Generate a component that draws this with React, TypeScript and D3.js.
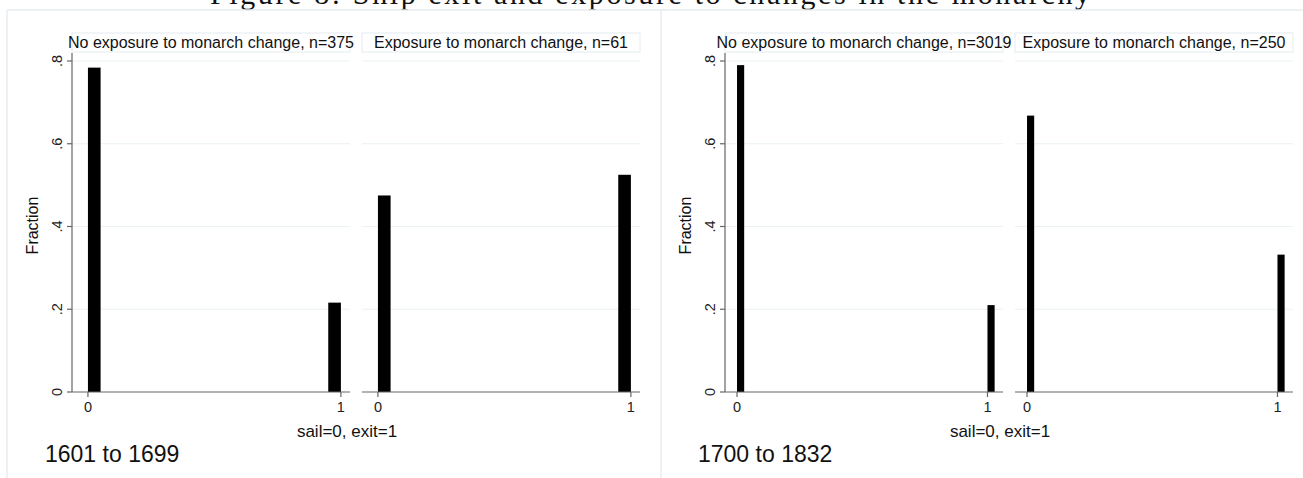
import * as d3 from "d3";

// values (fraction of ships, sail=0 / exit=1)
const outcomes = [0, 1];
const periods = ["1601 to 1699", "1700 to 1832"];
const titlesEarly = ["No exposure to monarch change, n=375", "Exposure to monarch change, n=61"];
const titlesLate = ["No exposure to monarch change, n=3019", "Exposure to monarch change, n=250"];
const fracEarlyNo = [0.784, 0.216];
const fracEarlyYes = [0.475, 0.525];
const fracLateNo = [0.79, 0.21];
const fracLateYes = [0.668, 0.332];
const yTicks = [0, 0.2, 0.4, 0.6, 0.8];
const yTickLabels = ["0", ".2", ".4", ".6", ".8"];
const figTitle = "Figure 8: Ship exit and exposure to changes in the monarchy";

const W = 1303;
const H = 478;
const SANS = "'Liberation Sans', Arial, sans-serif";

const figures = [
  {
    period: periods[0],
    titles: titlesEarly,
    series: [fracEarlyNo, fracEarlyYes],
    binWidth: 1 / 20,
    barShift: [0, -1],
    xDomain: [-0.063, 1.036],
    boxLeft: 7,
    axisLeft: 72,
  },
  {
    period: periods[1],
    titles: titlesLate,
    series: [fracLateNo, fracLateYes],
    binWidth: 1 / 35,
    barShift: [0, 0],
    xDomain: [-0.048, 1.062],
    boxLeft: 661,
    axisLeft: 725,
  },
];

const panelW = 278;
const panelGap = 12;
const plotTop = 53;
const plotBottom = 392;

const y = d3.scaleLinear().domain([0, 0.8]).range([plotBottom, 61]);

function Figure({ fig }) {
  const panels = fig.series.map((vals, i) => {
    const left = fig.axisLeft + i * (panelW + panelGap);
    const x = d3.scaleLinear().domain(fig.xDomain).range([left, left + panelW]);
    return { vals, i, left, x };
  });
  const right = panels[1].left + panelW;
  return (
    <g>
      <line x1={fig.boxLeft} x2={fig.boxLeft} y1={10} y2={H} stroke="#e6eef0" strokeWidth={1.5} />
      <line x1={fig.boxLeft} x2={fig.boxLeft + 660} y1={10} y2={10} stroke="#e6eef0" strokeWidth={1.5} />
      {panels.map(({ vals, i, left, x }) => (
        <g key={i}>
          <rect x={left} y={33} width={panelW} height={19} fill="#fff" stroke="#e3ecef" />
          <text x={left + panelW / 2} y={47.5} textAnchor="middle" fontFamily={SANS} fontSize={16} fill="#111">
            {fig.titles[i]}
          </text>
          {yTicks.slice(1).map((t) => (
            <line key={t} x1={left} x2={left + panelW} y1={y(t)} y2={y(t)} stroke="#eaf2f3" strokeWidth={1} />
          ))}
          {outcomes.map((o, j) => {
            const x0 = x(o + fig.barShift[j] * fig.binWidth);
            const x1 = x(o + (fig.barShift[j] + 1) * fig.binWidth);
            return (
              <rect key={o} x={x0} y={y(vals[j])} width={x1 - x0} height={y(0) - y(vals[j])} fill="#000" />
            );
          })}
          <line x1={left} x2={left + panelW} y1={plotBottom} y2={plotBottom} stroke="#666" strokeWidth={1.2} />
          {outcomes.map((o) => (
            <g key={o}>
              <line x1={x(o)} x2={x(o)} y1={plotBottom} y2={plotBottom + 5} stroke="#666" strokeWidth={1.2} />
              <text x={x(o)} y={plotBottom + 20} textAnchor="middle" fontFamily={SANS} fontSize={14.5} fill="#222">
                {o}
              </text>
            </g>
          ))}
        </g>
      ))}
      <line x1={fig.axisLeft} x2={fig.axisLeft} y1={plotTop} y2={plotBottom} stroke="#666" strokeWidth={1.2} />
      {yTicks.map((t, k) => (
        <g key={t}>
          <line x1={fig.axisLeft - 5} x2={fig.axisLeft} y1={y(t)} y2={y(t)} stroke="#666" strokeWidth={1.2} />
          <text
            transform={`translate(${fig.axisLeft - 10},${y(t)}) rotate(-90)`}
            textAnchor="middle"
            fontFamily={SANS}
            fontSize={14.5}
            fill="#222"
          >
            {yTickLabels[k]}
          </text>
        </g>
      ))}
      <text
        transform={`translate(${fig.axisLeft - 34},${(plotTop + plotBottom) / 2 + 3}) rotate(-90)`}
        textAnchor="middle"
        fontFamily={SANS}
        fontSize={16}
        fill="#111"
      >
        Fraction
      </text>
      <text x={(fig.axisLeft + right) / 2 - 9} y={437} textAnchor="middle" fontFamily={SANS} fontSize={17} fill="#111">
        sail=0, exit=1
      </text>
      <text x={fig.axisLeft - 27} y={462} fontFamily={SANS} fontSize={23} fill="#111">
        {fig.period}
      </text>
    </g>
  );
}

export default function App() {
  return (
    <svg
      width={W}
      height={H}
      viewBox={`0 0 ${W} ${H}`}
      style={{ position: "absolute", left: 0, top: 0, background: "#fff" }}
    >
      <rect width={W} height={H} fill="#fff" />
      <text x={650} y={4} textAnchor="middle" fontFamily="'Liberation Serif', serif" fontSize={30} textLength={880} fill="#111">
        {figTitle}
      </text>
      {figures.map((f, i) => (
        <Figure key={i} fig={f} />
      ))}
    </svg>
  );
}
